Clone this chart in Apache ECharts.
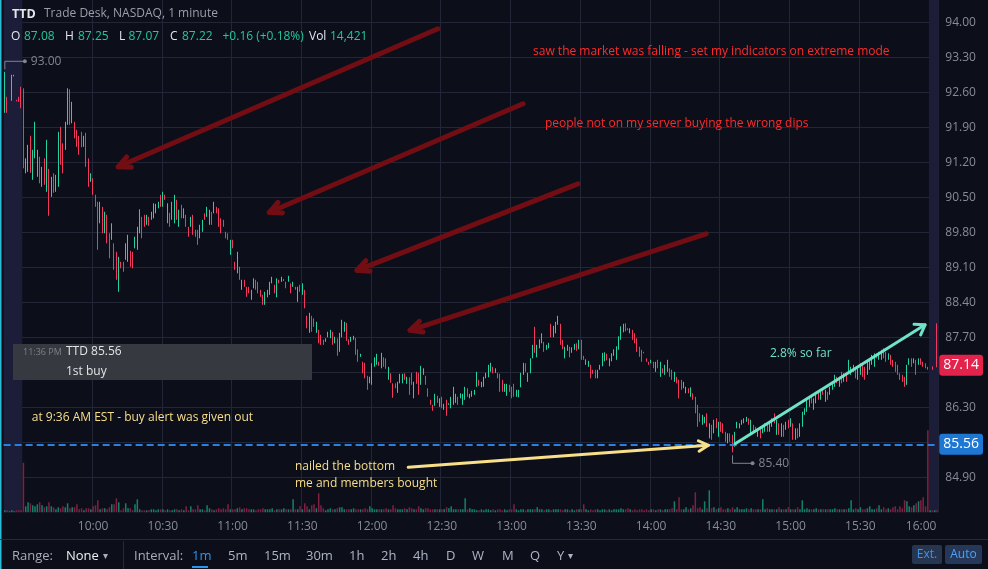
<!DOCTYPE html>
<html>
<head>
<meta charset="utf-8">
<title>TTD 1 minute</title>
<script src="https://cdn.jsdelivr.net/npm/echarts@6/dist/echarts.min.js"></script>
<style>
html, body { margin: 0; padding: 0; background: #0c0f1a; overflow: hidden; }
#chart { width: 988px; height: 569px; }
</style>
</head>
<body>
<div id="chart"></div>
<script>
// ================= DATA =================
const timeTicks = ['10:00','10:30','11:00','11:30','12:00','12:30','13:00','13:30','14:00','14:30','15:00','15:30','16:00'];
const priceTicks = [84.90, 85.60, 86.30, 87.00, 87.70, 88.40, 89.10, 89.80, 90.50, 91.20, 91.90, 92.60, 93.30, 94.00];
// labels hidden behind the price boxes are left out, as on the original axis
const priceTickLabels = [84.90, 86.30, 87.70, 88.40, 89.10, 89.80, 90.50, 91.20, 91.90, 92.60, 93.30, 94.00];

// pre-market (09:22-09:29)
const preHighs = [93.01, 92.51, null, 92.95, 92.95, 92.45, 92.51, 92.71];
const preLows  = [92.19, 92.19, null, 92.43, 92.92, 92.42, 92.41, 92.28];
const preDirs  = 'ud-uuddd';
const preVolK  = [4, 4, 2, 4, 2, 4, 4, 4];

// regular session (09:30-15:59), one value per minute
const sessionHighs = [
  92.68, 91.28, 91.55, 91.73, 91.45, 92.01, 91.45, 91.31, 91.11, 91.28,
  91.65, 91.07, 90.91, 90.98, 90.95, 91.81, 91.91, 91.58, 92.01, 92.68,
  92.66, 92.41, 92.01, 91.85, 91.73, 91.81, 91.73, 91.79, 91.28, 90.98,
  90.88, 90.55, 90.41, 90.41, 90.31, 90.21, 90.15, 89.78, 89.98, 89.58,
  89.41, 89.31, 89.21, 89.21, 89.58, 89.75, 89.43, 89.41, 89.71, 89.91,
  90.26, 90.11, 90.15, 90.15, 90.11, 90.21, 90.38, 90.37, 90.41, 90.55,
  90.61, 90.55, 90.38, 90.19, 90.41, 90.55, 90.45, 90.25, 90.35, 90.28,
  90.15, 89.91, 90.11, 90.15, 89.85, 89.85, 89.95, 90.05, 90.18, 90.31,
  90.25, 90.21, 90.41, 90.31, 90.28, 90.08, 90.05, 89.81, 89.78, 89.65,
  89.65, 89.21, 89.41, 89.11, 88.85, 88.85, 88.71, 88.71, 88.65, 88.88,
  88.85, 88.81, 88.65, 88.55, 88.61, 88.65, 88.81, 88.91, 88.75, 88.88,
  88.85, 88.91, 88.86, 88.81, 88.93, 88.78, 88.81, 88.71, 88.71, 88.75,
  88.78, 88.65, 88.13, 88.19, 88.13, 88.08, 88.01, 87.85, 87.75, 87.65,
  87.68, 87.81, 87.85, 87.81, 87.71, 87.68, 87.79, 88.05, 88.01, 87.99,
  87.66, 87.71, 87.73, 87.69, 87.46, 87.37, 87.21, 87.19, 86.93, 86.91,
  87.18, 87.30, 87.37, 87.21, 87.39, 87.30, 87.28, 87.11, 86.98, 86.78,
  86.78, 86.81, 86.97, 86.97, 86.98, 86.91, 86.90, 86.99, 86.81, 87.01,
  86.99, 87.13, 87.08, 86.93, 86.68, 86.45, 86.35, 86.57, 86.53, 86.48,
  86.51, 86.37, 86.45, 86.38, 86.51, 86.71, 86.57, 86.51, 86.58, 86.57,
  86.71, 86.68, 86.57, 86.63, 86.65, 87.01, 86.85, 86.81, 86.91, 86.99,
  87.15, 87.19, 87.11, 87.08, 86.99, 86.97, 86.85, 86.77, 86.77, 86.75,
  86.71, 86.77, 86.65, 86.65, 86.99, 87.19, 87.18, 86.99, 87.28, 87.55,
  87.91, 87.55, 87.66, 87.78, 87.61, 87.55, 87.59, 87.97, 87.93, 88.01,
  88.13, 87.97, 87.65, 87.51, 87.55, 87.51, 87.50, 87.57, 87.58, 87.65,
  87.65, 87.33, 87.26, 87.23, 87.15, 87.05, 87.05, 87.05, 87.15, 87.39,
  87.40, 87.37, 87.28, 87.38, 87.46, 87.52, 87.72, 87.92, 87.97, 87.98,
  87.88, 87.88, 87.85, 87.78, 87.68, 87.51, 87.45, 87.41, 87.28, 87.21,
  87.25, 87.21, 87.21, 87.25, 87.21, 87.08, 87.15, 87.25, 87.08, 87.05,
  87.01, 86.91, 86.85, 86.85, 86.81, 86.71, 86.68, 86.70, 86.58, 86.51,
  86.35, 86.18, 86.15, 86.11, 86.18, 85.98, 85.95, 86.05, 86.08, 86.01,
  86.01, 85.98, 85.81, 85.78, 85.78, 85.75, 85.81, 86.01, 85.98, 86.05,
  86.08, 86.11, 86.08, 86.05, 85.95, 85.91, 85.88, 85.88, 85.91, 85.98,
  85.95, 86.01, 86.08, 86.18, 86.05, 85.98, 85.98, 85.95, 86.01, 86.05,
  86.08, 85.98, 85.88, 85.88, 85.98, 86.21, 86.28, 86.45, 86.48, 86.51,
  86.48, 86.58, 86.61, 86.61, 86.68, 86.65, 86.61, 86.71, 86.81, 86.95,
  86.91, 86.91, 87.01, 86.98, 87.01, 87.25, 87.11, 87.15, 87.11, 87.08,
  87.18, 87.15, 87.11, 87.21, 87.28, 87.35, 87.38, 87.38, 87.41, 87.45,
  87.48, 87.41, 87.38, 87.35, 87.25, 87.21, 87.15, 86.98, 86.95, 86.91,
  87.15, 87.28, 87.28, 87.28, 87.25, 87.28, 87.28, 87.21, 87.18, 87.11
];
const sessionLows = [
  91.08, 90.98, 91.01, 90.99, 90.85, 91.28, 90.91, 90.78, 90.71, 90.75,
  90.61, 90.13, 90.51, 90.59, 90.61, 90.71, 91.15, 90.98, 91.45, 91.95,
  91.95, 91.98, 91.68, 91.51, 91.35, 91.50, 91.51, 91.11, 90.71, 90.81,
  90.55, 90.31, 89.45, 89.98, 89.78, 89.78, 89.58, 89.28, 89.65, 89.05,
  88.85, 88.61, 89.08, 89.01, 89.25, 89.21, 89.11, 89.08, 89.48, 89.45,
  89.78, 89.68, 89.91, 89.95, 89.93, 90.05, 90.08, 90.18, 90.28, 90.31,
  90.31, 90.45, 89.98, 89.91, 90.05, 89.98, 90.05, 89.91, 90.08, 90.08,
  89.91, 89.71, 89.91, 89.75, 89.71, 89.55, 89.68, 89.81, 90.05, 90.11,
  89.95, 89.95, 90.18, 90.18, 89.91, 89.78, 89.91, 89.68, 89.65, 89.35,
  89.48, 89.05, 88.98, 88.85, 88.65, 88.71, 88.51, 88.58, 88.45, 88.68,
  88.65, 88.58, 88.51, 88.35, 88.35, 88.50, 88.55, 88.78, 88.58, 88.50,
  88.78, 88.81, 88.83, 88.68, 88.81, 88.58, 88.71, 88.65, 88.41, 88.61,
  88.55, 88.28, 87.88, 87.79, 87.81, 87.91, 87.79, 87.58, 87.55, 87.55,
  87.61, 87.70, 87.68, 87.55, 87.58, 87.33, 87.41, 87.70, 87.81, 87.63,
  87.55, 87.61, 87.65, 87.35, 87.21, 87.31, 86.98, 86.88, 86.65, 86.78,
  86.75, 87.11, 87.15, 87.13, 87.08, 87.11, 87.07, 86.85, 86.79, 86.49,
  86.68, 86.59, 86.78, 86.78, 86.85, 86.77, 86.55, 86.75, 86.48, 86.77,
  86.55, 86.75, 86.95, 86.75, 86.51, 86.35, 86.23, 86.33, 86.39, 86.31,
  86.28, 86.25, 86.13, 86.35, 86.28, 86.35, 86.39, 86.35, 86.48, 86.35,
  86.45, 86.51, 86.48, 86.51, 86.55, 86.71, 86.73, 86.70, 86.71, 86.88,
  86.90, 87.01, 86.98, 86.99, 86.88, 86.61, 86.61, 86.61, 86.53, 86.61,
  86.48, 86.51, 86.51, 86.50, 86.70, 86.95, 87.01, 86.81, 86.98, 87.28,
  87.39, 87.30, 87.48, 87.58, 87.41, 87.45, 87.48, 87.70, 87.70, 87.78,
  87.95, 87.55, 87.46, 87.28, 87.43, 87.30, 87.39, 87.45, 87.43, 87.46,
  87.25, 87.25, 87.15, 87.11, 86.88, 86.97, 86.88, 86.88, 87.05, 87.12,
  87.22, 87.24, 87.12, 87.22, 87.33, 87.25, 87.45, 87.65, 87.80, 87.82,
  87.84, 87.78, 87.65, 87.58, 87.41, 87.31, 87.21, 87.38, 87.21, 87.15,
  87.18, 87.08, 87.01, 87.08, 86.91, 86.98, 86.95, 87.01, 86.91, 86.85,
  86.81, 86.78, 86.48, 86.65, 86.68, 86.58, 86.58, 86.51, 86.45, 86.18,
  85.91, 86.01, 85.95, 85.98, 85.91, 85.68, 85.65, 85.78, 85.88, 85.71,
  85.81, 85.78, 85.61, 85.58, 85.61, 85.40, 85.51, 85.88, 85.88, 85.95,
  85.98, 86.01, 85.95, 85.78, 85.81, 85.81, 85.71, 85.68, 85.78, 85.81,
  85.81, 85.81, 85.91, 85.98, 85.75, 85.75, 85.71, 85.71, 85.85, 85.88,
  85.91, 85.65, 85.65, 85.68, 85.71, 85.91, 86.15, 86.21, 86.31, 86.38,
  86.25, 86.38, 86.45, 86.45, 86.55, 86.41, 86.45, 86.55, 86.65, 86.71,
  86.78, 86.71, 86.78, 86.81, 86.81, 87.01, 86.95, 87.01, 86.88, 86.85,
  86.95, 86.91, 86.85, 86.95, 87.05, 87.15, 87.11, 87.28, 87.25, 87.25,
  87.28, 87.21, 87.25, 87.15, 87.11, 87.01, 86.95, 86.85, 86.81, 86.71,
  86.75, 87.15, 87.11, 87.18, 86.95, 87.15, 87.15, 87.11, 87.08, 87.05
];
const sessionDirs = [
  'duuduuudud','ududuudduu','dudddduddu','dddududdud','dudduudduu',
  'udduduuuud','ududuududu','dduddduudu','ududdddddu','ddududdduu',
  'dddduuuudu','duudududud','uddudduddd','uuududuuud','duuddudddu',
  'uuududdudd','duuududdud','duuddddudu','duduuuuduu','uduuuuduuu',
  'uududdduud','dduuuuduuu','duuuduuduu','udduuduudu','dduuddduuu',
  'uduuuuuuud','dudddddddd','udududuudd','uddduududd','dduudududu',
  'dddudduuuu','uududduduu','duudududud','ududuuuuud','uudududuuu',
  'dududuuudu','udduuuuduu','dduddddddd','uudududddd'
].join('');
const sessionVolK = [
  99, 12, 20, 18, 14, 12, 16, 20, 14, 10,
  12, 20, 12, 10, 6, 10, 8, 12, 10, 18,
  8, 10, 10, 16, 6, 8, 4, 8, 8, 6,
  12, 14, 24, 6, 8, 8, 6, 10, 16, 16,
  28, 20, 4, 8, 18, 8, 8, 4, 16, 26,
  6, 4, 4, 4, 4, 6, 6, 4, 6, 6,
  6, 4, 6, 4, 4, 6, 6, 4, 6, 4,
  12, 4, 12, 6, 6, 14, 6, 6, 4, 14,
  8, 6, 4, 6, 8, 6, 8, 6, 16, 6,
  6, 6, 8, 10, 6, 8, 8, 6, 6, 6,
  4, 6, 6, 8, 6, 6, 6, 8, 4, 6,
  6, 6, 8, 6, 6, 6, 26, 6, 6, 12,
  6, 18, 12, 6, 14, 16, 8, 38, 14, 8,
  4, 6, 8, 6, 6, 8, 10, 10, 6, 6,
  6, 6, 8, 6, 6, 6, 6, 8, 6, 12,
  8, 6, 6, 6, 6, 6, 8, 6, 6, 14,
  8, 6, 6, 6, 8, 6, 10, 8, 6, 6,
  12, 8, 6, 8, 8, 6, 6, 6, 6, 6,
  6, 6, 10, 8, 12, 6, 6, 6, 6, 6,
  28, 6, 8, 6, 6, 4, 4, 6, 4, 6,
  6, 4, 6, 4, 6, 6, 4, 6, 4, 6,
  6, 16, 6, 4, 6, 6, 4, 6, 6, 6,
  6, 10, 6, 6, 4, 6, 6, 4, 6, 6,
  6, 6, 4, 6, 6, 4, 6, 4, 6, 6,
  6, 16, 6, 4, 6, 4, 6, 6, 4, 6,
  6, 4, 6, 4, 6, 6, 6, 8, 6, 6,
  8, 6, 4, 6, 4, 6, 6, 4, 6, 4,
  6, 6, 4, 6, 6, 4, 6, 6, 6, 8,
  22, 6, 30, 6, 6, 10, 6, 8, 14, 40,
  8, 10, 6, 22, 8, 44, 8, 10, 6, 8,
  10, 6, 6, 8, 6, 10, 6, 10, 6, 6,
  6, 8, 6, 8, 6, 6, 6, 6, 26, 6,
  8, 6, 6, 6, 6, 10, 6, 6, 6, 10,
  6, 6, 6, 10, 6, 24, 6, 8, 6, 6,
  6, 8, 6, 6, 6, 6, 6, 6, 6, 8,
  6, 6, 6, 6, 6, 8, 24, 6, 8, 6,
  10, 6, 6, 8, 12, 6, 6, 8, 14, 6,
  10, 6, 8, 6, 10, 12, 6, 12, 8, 24,
  22, 12, 10, 14, 18, 22, 24, 30, 12, 164
];

// post-market (16:00-16:03)
const postHighs = [null, 87.12, null, 87.98];
const postLows  = [null, 87.05, null, 87.10];
const postDirs  = '-d-d';
const postVolK  = [4, 4, 4, 4];

// price lines
const alertPrice = 85.56;
const lastPrice = 87.14;

// session high / low markers: [minute from 09:30, price, side]
const extremes = [[-8, 93.00, 1], [305, 85.40, -1]];

// extended-hours shading: [from minute, to minute]
const extendedHours = [[-8.5, -0.5], [389.5, 393.5]];

// drawn arrows: [from minute, from price, to minute, to price, style]
const arrowLines = [
  [178.3, 93.87, 40.8, 91.11, 0],
  [214.9, 92.37, 105.8, 90.20, 0],
  [238.5, 90.77, 143.5, 89.04, 0],
  [293.6, 89.77, 166.3, 87.84, 0],
  [306.1, 85.57, 387.8, 87.95, 1],
  [165.5, 85.10, 294.6, 85.54, 2]
];

// text notes: [minute, price, index]
const noteTexts = [
  'saw the market was falling - set my indicators on extreme mode',
  'people not on my server buying the wrong dips',
  '2.8% so far',
  'nailed the bottom',
  'me and members bought',
  'at 9:36 AM EST - buy alert was given out'
];
const noteColors = ['#ff2b2b', '#ff2b2b', '#6fe3c6', '#f8df88', '#f8df88', '#f8df88'];
const notePositions = [
  [219.2, 93.41, 0],
  [224.3, 91.97, 1],
  [321.1, 87.37, 2],
  [116.8, 85.11, 3],
  [116.8, 84.77, 4],
  [3.6, 86.09, 5]
];

// header legend
const legendItems = [
  ['O', '87.08'], ['H', '87.25'], ['L', '87.07'], ['C', '87.22']
];
const legendChange = '+0.16 (+0.18%)';
const legendVolume = '14,421';

// ================= STYLE =================
const FONT = '"Open Sans", "Noto Sans", "DejaVu Sans", sans-serif';
const BG = '#0c0f1a';
const GRID = '#222636';
const UP = '#21d3a3';
const DOWN = '#f2385f';
const VOL_UP = '#15806a';
const VOL_DOWN = '#802043';
const AXIS_TXT = '#878b99';
const SHADE = '#1b1d39';
const Y_MIN = 84.2, Y_MAX = 94.446;
const arrowStyles = [
  { color: '#720e13', width: 5, head: 13, spread: 0.45 },
  { color: '#6fe3c6', width: 3, head: 11, spread: 0.6 },
  { color: '#f8df88', width: 3, head: 11, spread: 0.5 }
];
const priceBox = (bg, value) => ({
  show: true, position: 'end', distance: 1, formatter: () => value.toFixed(2),
  backgroundColor: bg, color: '#ffffff', fontSize: 14, fontFamily: FONT, fontWeight: 'normal',
  lineHeight: 15, padding: [3, 4, 3, 4], borderRadius: 3
});

// ================= BUILD =================
const highs = preHighs.concat(sessionHighs, postHighs);
const lows = preLows.concat(sessionLows, postLows);
const dirs = preDirs + sessionDirs + postDirs;
const volK = preVolK.concat(sessionVolK, postVolK);

const categories = [];
for (let t = 9 * 60 + 22; t <= 16 * 60 + 3; t++) {
  categories.push(String(Math.floor(t / 60)).padStart(2, '0') + ':' + String(t % 60).padStart(2, '0'));
}

const candleData = highs.map((h, i) => {
  if (h == null) return ['-', '-', '-', '-'];
  const l = lows[i];
  return dirs[i] === 'u' ? [l, h, l, h] : [h, l, l, h];
});
const volumeData = volK.map((v, i) => ({
  value: v * 1000,
  itemStyle: { color: dirs[i] === 'd' ? VOL_DOWN : VOL_UP }
}));

const chart = echarts.init(document.getElementById('chart'), null, { renderer: 'canvas' });

const txt = (x, y, text, fill, size, weight, align) => ({
  type: 'text', x: x, y: y, z: 100,
  style: {
    text: text, fill: fill, align: align || 'left', verticalAlign: 'middle',
    font: (weight || 'normal') + ' ' + size + 'px ' + FONT
  }
});

const graphics = [
  { type: 'rect', x: 0, y: 0, z: 100, shape: { x: 0, y: 0, width: 1.5, height: 569 }, style: { fill: '#2bbcd8' } },
  // header
  txt(12, 14, 'TTD', '#e4e6ec', 12.5, 'bold'),
  txt(44, 14, 'Trade Desk, NASDAQ, 1 minute', '#9a9eab', 12),
  // discord box
  { type: 'rect', z: 100, shape: { x: 13, y: 344, width: 299, height: 36 }, style: { fill: '#36393f' } },
  txt(23, 352.5, '11:36 PM', '#7d8087', 9),
  txt(66, 352, 'TTD 85.56', '#e3e4e6', 12),
  txt(66, 371.5, '1st buy', '#e3e4e6', 12),
  // toolbar
  { type: 'line', z: 100, shape: { x1: 0, y1: 539.5, x2: 988, y2: 539.5 }, style: { stroke: '#262a37', lineWidth: 1 } },
  { type: 'line', z: 100, shape: { x1: 123.5, y1: 541, x2: 123.5, y2: 569 }, style: { stroke: '#262a37', lineWidth: 1 } },
  txt(12, 556, 'Range:', '#a9adb8', 13),
  txt(66, 556, 'None', '#eceef2', 13),
  txt(103, 556, '\u25BE', '#a9adb8', 10),
  txt(134, 556, 'Interval:', '#a9adb8', 13),
  txt(192, 556, '1m', '#2a95f0', 13),
  { type: 'rect', z: 100, shape: { x: 192, y: 566, width: 16, height: 2 }, style: { fill: '#2a95f0' } },
  txt(228, 556, '5m', '#aeb4c6', 13),
  txt(264, 556, '15m', '#aeb4c6', 13),
  txt(306, 556, '30m', '#aeb4c6', 13),
  txt(349, 556, '1h', '#aeb4c6', 13),
  txt(381, 556, '2h', '#aeb4c6', 13),
  txt(413, 556, '4h', '#aeb4c6', 13),
  txt(446, 556, 'D', '#aeb4c6', 13),
  txt(472, 556, 'W', '#aeb4c6', 13),
  txt(502, 556, 'M', '#aeb4c6', 13),
  txt(530, 556, 'Q', '#aeb4c6', 13),
  txt(557, 556, 'Y', '#aeb4c6', 13),
  txt(568, 556, '\u25BE', '#aeb4c6', 10),
  { type: 'rect', z: 100, shape: { x: 912, y: 545, width: 30, height: 19, r: 2 }, style: { fill: '#263650' } },
  txt(927, 554.5, 'Ext.', '#3f93ea', 12, 'normal', 'center'),
  { type: 'rect', z: 100, shape: { x: 945, y: 545, width: 37, height: 19, r: 2 }, style: { fill: '#25385a' } },
  txt(963.5, 554.5, 'Auto', '#4aa2f5', 12, 'normal', 'center')
];
// legend line
const legendX = [[11, 24], [65, 78], [119, 128.5], [170, 182]];
legendItems.forEach((it, i) => {
  graphics.push(txt(legendX[i][0], 37, it[0], '#e4e6ec', 12));
  graphics.push(txt(legendX[i][1], 37, it[1], '#22c79e', 12));
});
graphics.push(txt(222.5, 37, legendChange, '#22c79e', 12));
graphics.push(txt(309, 37, 'Vol', '#e4e6ec', 12));
graphics.push(txt(330, 37, legendVolume, '#22c79e', 12));

const option = {
  backgroundColor: BG,
  animation: false,
  textStyle: { fontFamily: FONT },
  graphic: { elements: graphics },
  grid: [
    { left: 3.65, right: 49.7, top: 0, bottom: 56.7 },
    { left: 3.65, right: 49.7, top: 412.3, bottom: 56.7 }
  ],
  xAxis: [
    {
      type: 'category', gridIndex: 0, data: categories, boundaryGap: true,
      axisLine: { show: false }, axisTick: { show: false },
      axisLabel: {
        interval: (i, v) => timeTicks.indexOf(v) >= 0,
        color: AXIS_TXT, fontSize: 12, fontFamily: FONT, margin: 8,
        formatter: v => v === '16:00' ? '{s|' + v + '}' : v,
        rich: { s: { color: AXIS_TXT, fontSize: 12, fontFamily: FONT, padding: [0, 18, 0, 0] } }
      },
      splitLine: { show: true, interval: (i, v) => timeTicks.indexOf(v) >= 0, lineStyle: { color: GRID, width: 1 } }
    },
    { type: 'category', gridIndex: 1, data: categories, boundaryGap: true, show: false },
    { type: 'value', gridIndex: 0, min: -8.5, max: 393.5, show: false }
  ],
  yAxis: [
    {
      type: 'value', gridIndex: 0, position: 'right', min: Y_MIN, max: Y_MAX, scale: true,
      axisLine: { show: false },
      axisTick: { show: false, customValues: priceTicks },
      axisLabel: {
        customValues: priceTickLabels, formatter: v => v.toFixed(2),
        color: AXIS_TXT, fontSize: 12, fontFamily: FONT, margin: 7
      },
      splitLine: { show: true, lineStyle: { color: GRID, width: 1 } }
    },
    { type: 'value', gridIndex: 1, min: 0, max: 200000, show: false }
  ],
  series: [
    {
      type: 'custom', name: 'extended', xAxisIndex: 2, yAxisIndex: 0, z: 1, silent: true,
      data: extendedHours,
      renderItem: (params, api) => {
        const a = api.coord([api.value(0), Y_MAX]);
        const b = api.coord([api.value(1), Y_MIN]);
        return { type: 'rect', shape: { x: a[0], y: a[1], width: b[0] - a[0], height: b[1] - a[1] }, style: { fill: SHADE } };
      }
    },
    {
      type: 'bar', name: 'Volume', xAxisIndex: 1, yAxisIndex: 1, z: 2, silent: true,
      barWidth: 1.5, data: volumeData
    },
    {
      type: 'candlestick', name: 'TTD', xAxisIndex: 0, yAxisIndex: 0, z: 3, silent: true,
      barWidth: 1, large: false, progressive: 0,
      data: candleData,
      itemStyle: { color: UP, color0: DOWN, borderColor: UP, borderColor0: DOWN, borderWidth: 1 },
      markLine: {
        silent: true, symbol: ['none', 'none'], animation: false,
        data: [
          {
            yAxis: alertPrice,
            lineStyle: { color: '#2b80df', width: 2, type: [7, 4] },
            label: priceBox('#1f77d4', alertPrice)
          },
          {
            yAxis: lastPrice,
            lineStyle: { color: 'rgba(0,0,0,0)', width: 1, type: 'solid' },
            label: priceBox('#e3234c', lastPrice)
          }
        ]
      }
    },
    {
      type: 'custom', name: 'arrows', xAxisIndex: 2, yAxisIndex: 0, z: 5, silent: true,
      data: arrowLines,
      renderItem: (params, api) => {
        const s = api.coord([api.value(0), api.value(1)]);
        const e = api.coord([api.value(2), api.value(3)]);
        const st = arrowStyles[api.value(4)];
        const ang = Math.atan2(s[1] - e[1], s[0] - e[0]);
        const w1 = [e[0] + st.head * Math.cos(ang + st.spread), e[1] + st.head * Math.sin(ang + st.spread)];
        const w2 = [e[0] + st.head * Math.cos(ang - st.spread), e[1] + st.head * Math.sin(ang - st.spread)];
        const style = { stroke: st.color, lineWidth: st.width, lineCap: 'round', lineJoin: 'round', fill: null };
        return {
          type: 'group', children: [
            { type: 'line', shape: { x1: s[0], y1: s[1], x2: e[0], y2: e[1] }, style: style },
            { type: 'polyline', shape: { points: [w1, e, w2] }, style: style }
          ]
        };
      }
    },
    {
      type: 'custom', name: 'notes', xAxisIndex: 2, yAxisIndex: 0, z: 6, silent: true,
      data: notePositions,
      renderItem: (params, api) => {
        const p = api.coord([api.value(0), api.value(1)]);
        const i = api.value(2);
        return {
          type: 'text', x: p[0], y: p[1],
          style: { text: noteTexts[i], fill: noteColors[i], font: '12px ' + FONT, align: 'left', verticalAlign: 'middle' }
        };
      }
    },
    {
      type: 'custom', name: 'extremes', xAxisIndex: 2, yAxisIndex: 0, z: 6, silent: true,
      data: extremes,
      renderItem: (params, api) => {
        const p = api.coord([api.value(0), api.value(1)]);
        const side = api.value(2);
        const y0 = p[1] - side * 3, y1 = p[1] - side * 11;
        const c = '#7f8391';
        return {
          type: 'group', children: [
            { type: 'polyline', shape: { points: [[p[0], y0], [p[0], y1], [p[0] + 20, y1]] }, style: { stroke: c, lineWidth: 1, fill: null } },
            { type: 'circle', shape: { cx: p[0] + 20, cy: y1, r: 2 }, style: { fill: c } },
            { type: 'text', x: p[0] + 26, y: y1, style: { text: api.value(1).toFixed(2), fill: '#7f8391', font: '12px ' + FONT, verticalAlign: 'middle' } }
          ]
        };
      }
    }
  ]
};

chart.setOption(option);
</script>
</body>
</html>
